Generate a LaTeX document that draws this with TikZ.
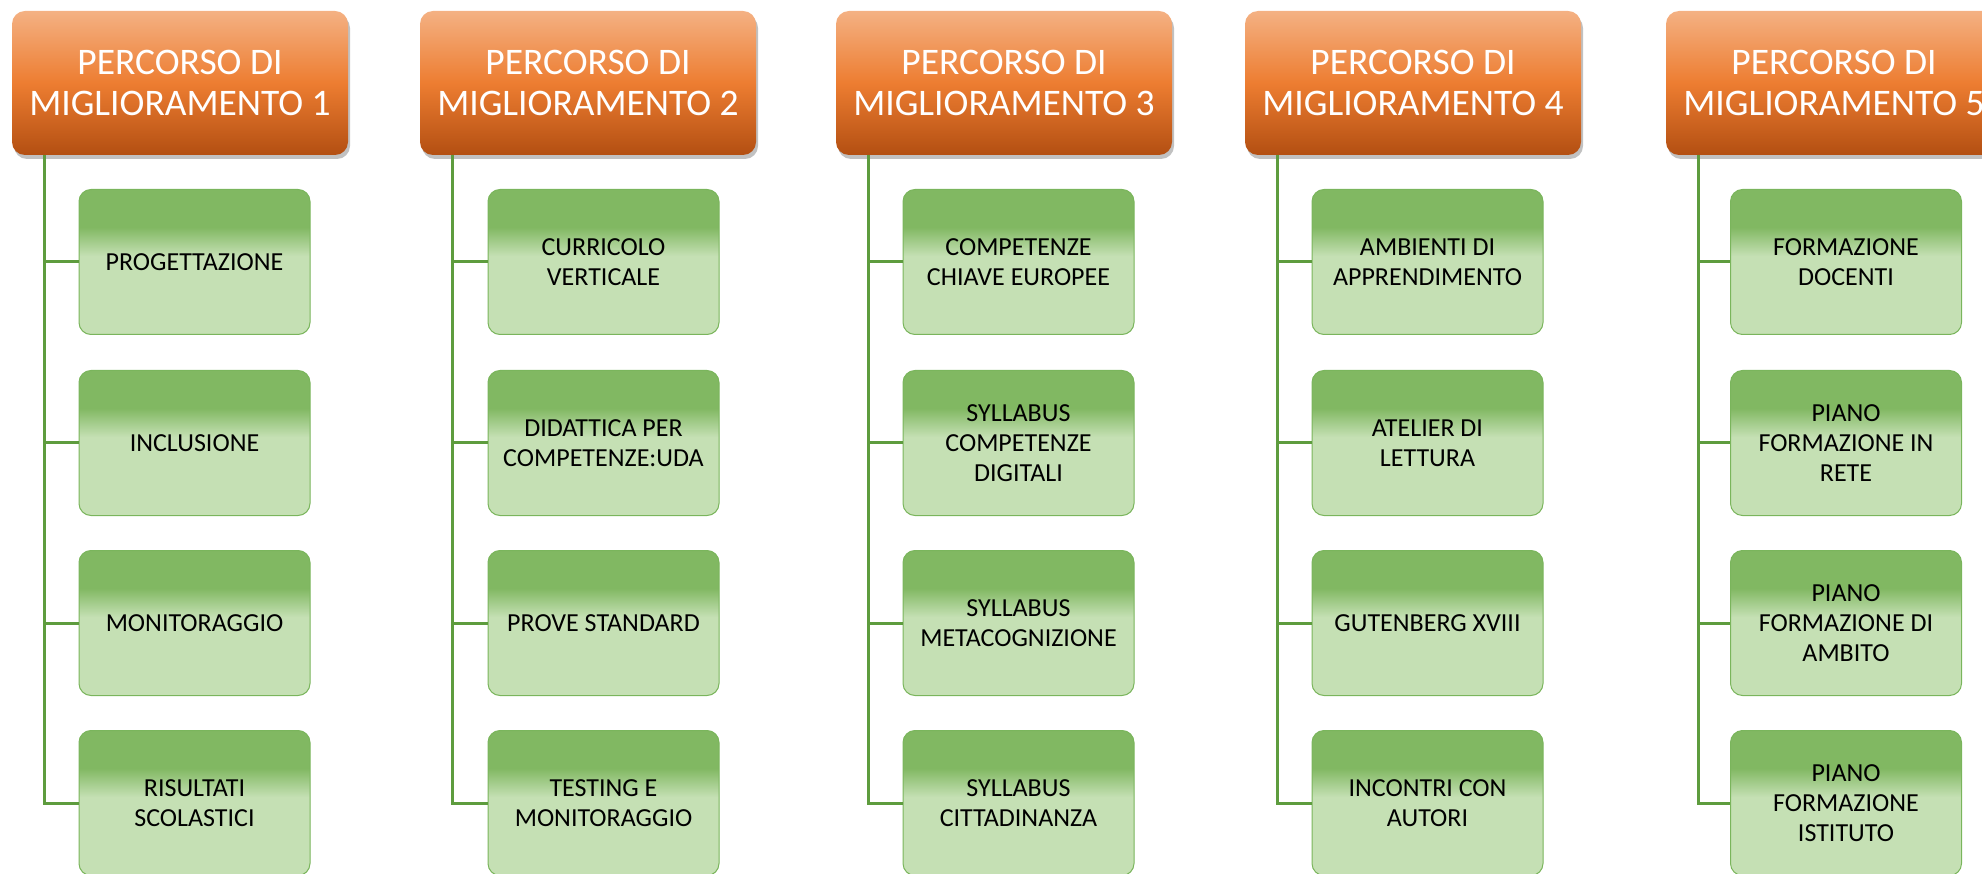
\documentclass[tikz,border=0pt]{standalone}
\usepackage{fontspec}
\setmainfont{Carlito}
\usetikzlibrary{shadows}
\definecolor{orT}{HTML}{F4B183}
\definecolor{orM}{HTML}{ED7D31}
\definecolor{orB}{HTML}{B34F12}
\definecolor{gD}{HTML}{81B862}
\definecolor{gL}{HTML}{C5E0B4}
\definecolor{conncol}{HTML}{5E9C3E}
\definecolor{bordergreen}{HTML}{7AB55C}
\pgfdeclareverticalshading{hdrshade}{100bp}{color(0bp)=(orB); color(25bp)=(orB); color(50bp)=(orM); color(75bp)=(orT); color(100bp)=(orT)}
\pgfdeclareverticalshading{childshade}{100bp}{color(0bp)=(gL); color(25bp)=(gL); color(52bp)=(gL); color(62bp)=(gD); color(75bp)=(gD); color(100bp)=(gD)}
\begin{document}
\begin{tikzpicture}[x=1pt,y=-1pt,
 hdr/.style={rectangle, rounded corners=13pt, minimum width=336pt, minimum height=144pt, shading=hdrshade, text=white, align=center, font=\fontsize{37.5}{41}\selectfont, inner sep=0pt, drop shadow={opacity=0.35, shadow xshift=2pt, shadow yshift=-4pt, fill=black!70}},
 childbox/.style={rectangle, rounded corners=12pt, minimum width=231pt, minimum height=145pt, shading=childshade, draw=bordergreen, line width=1pt, text=black, align=center, font=\fontsize{26}{30}\selectfont, inner sep=0pt},
 conn/.style={draw=conncol, line width=3pt}]
\useasboundingbox (0,0) rectangle (1982,874);
\clip (0,0) rectangle (1982,874);
% headers
\foreach \i/\hx in {1/12,2/420,3/836,4/1245,5/1666} {
  \node[hdr] (h\i) at (\hx+168,83) {PERCORSO DI\\MIGLIORAMENTO \i};
  \coordinate (t\i) at ([xshift=33pt]h\i.south west);
}
% column 1
\node[childbox] (c11) at (194.5,262) {PROGETTAZIONE};
\node[childbox] (c12) at (194.5,443) {INCLUSIONE};
\node[childbox] (c13) at (194.5,623) {MONITORAGGIO};
\node[childbox] (c14) at (194.5,803) {RISULTATI\\SCOLASTICI};
% column 2
\node[childbox] (c21) at (603.5,262) {CURRICOLO\\VERTICALE};
\node[childbox] (c22) at (603.5,443) {DIDATTICA PER\\COMPETENZE:UDA};
\node[childbox] (c23) at (603.5,623) {PROVE STANDARD};
\node[childbox] (c24) at (603.5,803) {TESTING E\\MONITORAGGIO};
% column 3
\node[childbox] (c31) at (1018.5,262) {COMPETENZE\\CHIAVE EUROPEE};
\node[childbox] (c32) at (1018.5,443) {SYLLABUS\\COMPETENZE\\DIGITALI};
\node[childbox] (c33) at (1018.5,623) {SYLLABUS\\METACOGNIZIONE};
\node[childbox] (c34) at (1018.5,803) {SYLLABUS\\CITTADINANZA};
% column 4
\node[childbox] (c41) at (1427.5,262) {AMBIENTI DI\\APPRENDIMENTO};
\node[childbox] (c42) at (1427.5,443) {ATELIER DI\\LETTURA};
\node[childbox] (c43) at (1427.5,623) {GUTENBERG XVIII};
\node[childbox] (c44) at (1427.5,803) {INCONTRI CON\\AUTORI};
% column 5
\node[childbox] (c51) at (1846,262) {FORMAZIONE\\DOCENTI};
\node[childbox] (c52) at (1846,443) {PIANO\\FORMAZIONE IN\\RETE};
\node[childbox] (c53) at (1846,623) {PIANO\\FORMAZIONE DI\\AMBITO};
\node[childbox] (c54) at (1846,803) {PIANO\\FORMAZIONE\\ISTITUTO};
% connectors
\foreach \i in {1,...,5} {
  \draw[conn] (t\i) |- (c\i4.west);
  \foreach \j in {1,2,3} {
    \draw[conn] (t\i |- c\i\j.west) -- (c\i\j.west);
  }
}
\end{tikzpicture}
\end{document}
